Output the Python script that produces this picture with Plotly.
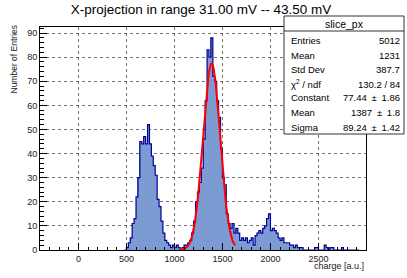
import numpy as np
import plotly.graph_objects as go

# ---- data ----
bin_width = 20
bin_centers = list(range(490, 2911, 20))
counts = [
    0, 1, 3, 5, 11, 13, 22, 30, 45, 44,          # 490-670
    47, 44, 52, 44, 39, 35, 31, 21, 18, 12,      # 690-870
    7, 4, 3, 2, 1, 2, 1, 2, 1, 0,                # 890-1070
    1, 2, 2, 3, 4, 7, 12, 20, 24, 28,            # 1090-1270
    34, 46, 62, 83, 80, 88, 72, 70, 62, 55,      # 1290-1470
    42, 30, 27, 15, 11, 9, 11, 7, 9, 7,          # 1490-1670
    4, 5, 4, 5, 3, 4, 5, 2, 6, 7,                # 1690-1870
    8, 7, 9, 10, 13, 15, 8, 9, 8, 7,             # 1890-2070
    5, 4, 5, 3, 3, 3, 2, 2, 1, 2,                # 2090-2270
    1, 1, 1, 0, 0, 0, 0, 0, 0, 1,                # 2290-2470
    1, 0, 0, 0, 2, 1, 0, 1, 1, 0,                # 2490-2670
    0, 0, 0, 1, 0, 0, 0, 0, 0, 0,                # 2690-2870
    0, 0,                                        # 2890-2910
]
counts = counts[:len(bin_centers)]
while len(counts) < len(bin_centers):
    counts.append(0)

fit_constant = 77.44
fit_mean = 1387.0
fit_sigma = 89.24
fit_range = [1050, 1630]

PM = "\u2002±\u2002"
stats_labels = ["Entries", "Mean", "Std Dev", "χ<sup>2</sup> / ndf", "Constant", "Mean", "Sigma"]
stats_values = ["5012", "1231", "387.7", "130.2 / 84",
                "77.44" + PM + "1.86", "1387" + PM + "1.8", "89.24" + PM + "1.42"]

# ---- figure ----
FONT = "Liberation Sans, Arial, Helvetica, sans-serif"
W, H = 407, 278
L, R, T, B = 40, 366, 27, 250

def px2x(px):
    return (px - L) / (R - L)

def py2y(py):
    return (B - py) / (B - T)

fig = go.Figure()

fig.add_trace(go.Bar(
    x=bin_centers, y=counts, width=bin_width,
    marker=dict(color="#7d9bd3", line=dict(width=0)),
    hoverinfo="skip", showlegend=False,
))

edges = [c - bin_width / 2 for c in bin_centers] + [bin_centers[-1] + bin_width / 2]
step_y = counts + [counts[-1]]
fig.add_trace(go.Scatter(
    x=edges, y=step_y, mode="lines", line=dict(shape="hv", color="#000096", width=1.2),
    hoverinfo="skip", showlegend=False,
))

fx = np.linspace(fit_range[0], fit_range[1], 300)
fy = fit_constant * np.exp(-0.5 * ((fx - fit_mean) / fit_sigma) ** 2)
fig.add_trace(go.Scatter(
    x=fx, y=fy, mode="lines", line=dict(color="#ff0000", width=2),
    hoverinfo="skip", showlegend=False,
))

grid = dict(showgrid=True, gridcolor="rgba(0,0,0,0.55)", griddash="dot", gridwidth=1)
fig.update_xaxes(
    range=[-400, 2995], dtick=500, tick0=0, ticks="inside", ticklen=7, tickcolor="black",
    minor=dict(ticks="inside", dtick=100, tick0=0, ticklen=3.5, tickcolor="black", showgrid=False),
    showline=True, linecolor="black", linewidth=1, mirror=True, zeroline=False,
    tickfont=dict(family=FONT, size=9, color="#222"), **grid,
)
fig.update_yaxes(
    range=[0, 92.5], dtick=10, tick0=0, ticks="inside", ticklen=7, tickcolor="black",
    minor=dict(ticks="inside", dtick=2, tick0=0, ticklen=3.5, tickcolor="black", showgrid=False),
    showline=True, linecolor="black", linewidth=1, mirror=True, zeroline=False,
    tickfont=dict(family=FONT, size=9, color="#222"), **grid,
)

shapes = []
box_l, box_r, box_t, box_b = 284, 404, 16, 134
shapes.append(dict(type="rect", xref="paper", yref="paper",
                   x0=px2x(box_l), x1=px2x(box_r), y0=py2y(box_b), y1=py2y(box_t),
                   fillcolor="white", line=dict(color="#333", width=1), layer="above"))
shapes.append(dict(type="line", xref="paper", yref="paper",
                   x0=px2x(box_l), x1=px2x(box_r), y0=py2y(31), y1=py2y(31),
                   line=dict(color="#333", width=1), layer="above"))

annotations = []
annotations.append(dict(text="slice_px", xref="paper", yref="paper",
                        x=px2x((box_l + box_r) / 2), y=py2y(23.5), xanchor="center", yanchor="middle",
                        showarrow=False, font=dict(family=FONT, size=10.5, color="black")))
row_py = [40.5, 55, 69.5, 84, 97.5, 112.5, 127.5]
for lab, val, py in zip(stats_labels, stats_values, row_py):
    annotations.append(dict(text=lab, xref="paper", yref="paper", x=px2x(289), y=py2y(py),
                            xanchor="left", yanchor="middle", showarrow=False,
                            font=dict(family=FONT, size=9.5, color="black")))
    annotations.append(dict(text=val, xref="paper", yref="paper", x=px2x(401.5), y=py2y(py),
                            xanchor="right", yanchor="middle", showarrow=False,
                            font=dict(family=FONT, size=9.5, color="black")))

annotations.append(dict(text="Number of Entries", xref="paper", yref="paper",
                        x=px2x(14), y=py2y(23), xanchor="center", yanchor="top", textangle=-90,
                        showarrow=False, font=dict(family=FONT, size=8.5, color="#222")))
annotations.append(dict(text="charge [a.u.]", xref="paper", yref="paper",
                        x=1.0, y=py2y(266), xanchor="right", yanchor="middle",
                        showarrow=False, font=dict(family=FONT, size=9, color="#222")))

fig.update_layout(
    width=W, height=H,
    margin=dict(l=L, r=W - R, t=T, b=H - B, pad=0, autoexpand=False),
    paper_bgcolor="white", plot_bgcolor="white",
    bargap=0,
    title=dict(text="X-projection in range 31.00 mV -- 43.50 mV", x=201 / W, xanchor="center",
               y=1 - 9 / H, yanchor="middle", font=dict(family=FONT, size=13.5, color="black")),
    shapes=shapes, annotations=annotations,
)

fig.write_html("out.html", config={"displayModeBar": False})
with open("out.html", "r", encoding="utf-8") as f:
    html = f.read()
html = html.replace("<head>", "<head><style>html,body{margin:0;padding:0;overflow:hidden;}</style>", 1)
with open("out.html", "w", encoding="utf-8") as f:
    f.write(html)
